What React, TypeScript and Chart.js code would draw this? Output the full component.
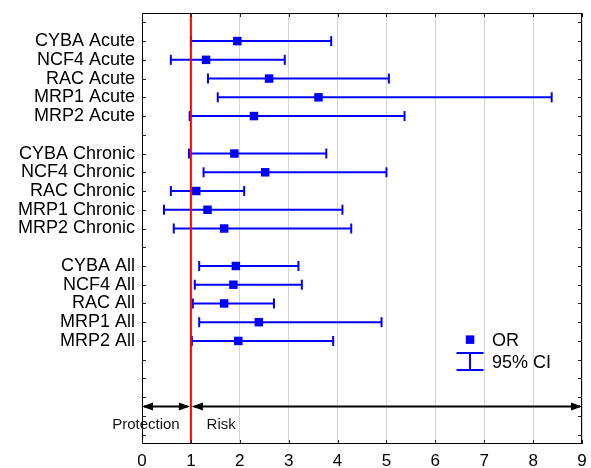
import { useEffect, useRef } from 'react';
import { Chart, registerables } from 'chart.js';

Chart.register(...registerables);

// ---- data ----
const categories = [
  'CYBA Acute', 'NCF4 Acute', 'RAC Acute', 'MRP1 Acute', 'MRP2 Acute',
  'CYBA Chronic', 'NCF4 Chronic', 'RAC Chronic', 'MRP1 Chronic', 'MRP2 Chronic',
  'CYBA All', 'NCF4 All', 'RAC All', 'MRP1 All', 'MRP2 All',
];
// row index on the (reversed) y axis for each category
const rowPositions = [1, 2, 3, 4, 5, 7, 8, 9, 10, 11, 13, 14, 15, 16, 17];
const orValues = [1.95, 1.31, 2.6, 3.61, 2.29, 1.89, 2.52, 1.11, 1.34, 1.68, 1.92, 1.87, 1.68, 2.39, 1.97];
const ciLower = [1.0, 0.59, 1.35, 1.55, 0.975, 0.96, 1.26, 0.59, 0.45, 0.65, 1.17, 1.08, 1.04, 1.17, 1.02];
const ciUpper = [3.87, 2.92, 5.05, 8.38, 5.37, 3.77, 5.0, 2.09, 4.1, 4.28, 3.2, 3.27, 2.7, 4.9, 3.91];
const xTickValues = [0, 1, 2, 3, 4, 5, 6, 7, 8, 9];
const yRowCount = 23; // rows 0..22
const referenceOR = 1;
const protectionLabel = 'Protection';
const riskLabel = 'Risk';
const legendLabels = ['OR', '95% CI'];

const FONT = '"Liberation Sans", Arial, sans-serif';
const BLUE = '#0000ff';

const decorPlugin = {
  id: 'forestDecor',
  afterDatasetsDraw(chart: any) {
    const { ctx, chartArea: ca, scales } = chart;
    const xs = scales.x;
    const ys = scales.y;
    ctx.save();
    // frame
    ctx.strokeStyle = '#000';
    ctx.lineWidth = 1;
    ctx.strokeRect(Math.round(ca.left) + 0.5, Math.round(ca.top) + 0.5, Math.round(ca.right - ca.left) - 1, Math.round(ca.bottom - ca.top) - 1);
    // inward ticks
    ctx.strokeStyle = '#222';
    ctx.beginPath();
    for (let i = 0; i < yRowCount; i++) {
      const y = Math.round(ys.getPixelForValue(i)) + 0.5;
      ctx.moveTo(ca.left, y); ctx.lineTo(ca.left + 4, y);
      ctx.moveTo(ca.right, y); ctx.lineTo(ca.right - 4, y);
    }
    for (const v of xTickValues) {
      const x = Math.round(xs.getPixelForValue(v)) + 0.5;
      ctx.moveTo(x, ca.top); ctx.lineTo(x, ca.top + 4);
      ctx.moveTo(x, ca.bottom); ctx.lineTo(x, ca.bottom - 4);
    }
    ctx.stroke();

    // arrows
    const ay = ys.getPixelForValue(20.5);
    const x0 = xs.getPixelForValue(0);
    const x1 = xs.getPixelForValue(referenceOR);
    const x9 = xs.getPixelForValue(9);
    const head = (tipX: number, dir: number) => {
      ctx.beginPath();
      ctx.moveTo(tipX, ay);
      ctx.lineTo(tipX - dir * 11, ay - 4);
      ctx.lineTo(tipX - dir * 11, ay + 4);
      ctx.closePath();
      ctx.fill();
    };
    ctx.strokeStyle = '#000';
    ctx.fillStyle = '#000';
    ctx.lineWidth = 2;
    ctx.beginPath();
    ctx.moveTo(x0 + 2, ay); ctx.lineTo(x1 - 3, ay);
    ctx.moveTo(x1 + 3, ay); ctx.lineTo(x9 - 2, ay);
    ctx.stroke();
    head(x0, -1);
    head(x1 - 1, 1);
    head(x1 + 1, -1);
    head(x9, 1);

    // protection / risk text
    ctx.font = `15px ${FONT}`;
    ctx.fillStyle = '#111';
    ctx.textAlign = 'center';
    ctx.textBaseline = 'middle';
    const ty = ys.getPixelForValue(21.5);
    ctx.fillText(protectionLabel, xs.getPixelForValue(0.08), ty);
    ctx.fillText(riskLabel, xs.getPixelForValue(1.62), ty);

    // legend
    const lx = xs.getPixelForValue(6.71);
    const ly1 = ys.getPixelForValue(16.93);
    const ly2 = ys.getPixelForValue(18.1);
    ctx.fillStyle = BLUE;
    ctx.fillRect(lx - 4.25, ly1 - 4.25, 8.5, 8.5);
    ctx.strokeStyle = BLUE;
    ctx.lineWidth = 2;
    ctx.beginPath();
    ctx.moveTo(lx - 13.5, ly2 - 8.5); ctx.lineTo(lx + 13.5, ly2 - 8.5);
    ctx.moveTo(lx - 13.5, ly2 + 8.5); ctx.lineTo(lx + 13.5, ly2 + 8.5);
    ctx.moveTo(lx, ly2 - 8.5); ctx.lineTo(lx, ly2 + 8.5);
    ctx.stroke();
    ctx.font = `18px ${FONT}`;
    ctx.fillStyle = '#000';
    ctx.textAlign = 'left';
    ctx.fillText(legendLabels[0], lx + 22, ly1 + 1);
    ctx.fillText(legendLabels[1], lx + 22, ly2 + 1);
    ctx.restore();
  },
};

export default function App() {
  const ref = useRef<HTMLCanvasElement | null>(null);
  useEffect(() => {
    if (!ref.current) return;
    const rowText: Record<number, string> = {};
    rowPositions.forEach((r, i) => { rowText[r] = categories[i]; });

    const ciDatasets = categories.map((_, i) => ({
      type: 'line' as const,
      data: [
        { x: ciLower[i], y: rowPositions[i] },
        { x: ciUpper[i], y: rowPositions[i] },
      ],
      borderColor: BLUE,
      borderWidth: 2,
      pointStyle: 'line' as const,
      pointRotation: 90,
      pointRadius: 5,
      pointHoverRadius: 5,
      pointBorderWidth: 2,
      pointBorderColor: BLUE,
      order: 3,
    }));

    const chart = new Chart(ref.current, {
      type: 'line',
      data: {
        datasets: [
          {
            data: [{ x: referenceOR, y: -0.5 }, { x: referenceOR, y: yRowCount - 0.5 }],
            borderColor: '#ff0000',
            borderWidth: 2,
            pointRadius: 0,
            order: 0,
          } as any,
          {
            data: orValues.map((v, i) => ({ x: v, y: rowPositions[i] })),
            showLine: false,
            pointStyle: 'rect',
            pointRadius: 6,
            pointHoverRadius: 6,
            pointBackgroundColor: BLUE,
            pointBorderWidth: 0,
            borderColor: BLUE,
            order: 1,
          } as any,
          ...ciDatasets,
        ],
      },
      options: {
        animation: false,
        responsive: false,
        events: [],
        layout: { padding: { top: 13, right: 9, left: 0, bottom: 0 } },
        plugins: { legend: { display: false }, tooltip: { enabled: false } },
        scales: {
          x: {
            type: 'linear',
            min: 0,
            max: 9,
            afterFit: (s: any) => { s.height = 24; s.paddingLeft = 0; s.paddingRight = 0; },
            afterBuildTicks: (s: any) => { s.ticks = xTickValues.map((v) => ({ value: v })); },
            ticks: {
              font: { family: FONT, size: 17 },
              color: '#000',
              padding: 7,
              maxRotation: 0,
              callback: (v: any) => String(v),
            },
            grid: { color: '#d4d4d4', lineWidth: 1, drawTicks: false },
            border: { display: false },
          },
          y: {
            type: 'linear',
            reverse: true,
            min: -0.5,
            max: yRowCount - 0.5,
            afterFit: (s: any) => { s.width = 142; s.paddingTop = 0; s.paddingBottom = 0; },
            afterBuildTicks: (s: any) => {
              s.ticks = Array.from({ length: yRowCount }, (_, i) => ({ value: i }));
            },
            ticks: {
              font: { family: FONT, size: 18 },
              color: '#000',
              padding: 7,
              autoSkip: false,
              callback: (v: any) => rowText[v as number] ?? '',
            },
            grid: { display: false, drawTicks: false },
            border: { display: false },
          },
        },
      },
      plugins: [decorPlugin],
    });
    return () => chart.destroy();
  }, []);

  return (
    <div style={{ position: 'absolute', left: 0, top: 0, width: 591, height: 468, background: '#fff' }}>
      <canvas ref={ref} width={591} height={468} style={{ width: 591, height: 468 }} />
    </div>
  );
}
